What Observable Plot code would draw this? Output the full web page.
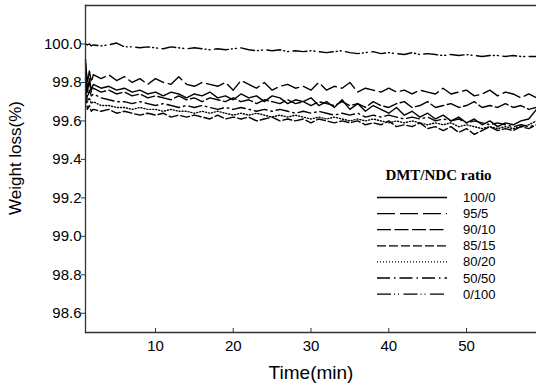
<!DOCTYPE html>
<html>
<head>
<meta charset="utf-8">
<script src="https://cdn.jsdelivr.net/npm/d3@7"></script>
<script src="https://cdn.jsdelivr.net/npm/@observablehq/plot@0.6"></script>
<style>
  html, body { margin: 0; padding: 0; background: #fff; }
  #wrap { position: relative; width: 536px; height: 387px; }
  #legend { position: absolute; left: 0; top: 0; pointer-events: none; }
</style>
</head>
<body>
<div id="wrap"></div>
<script>
// ---- data ----
const times = [1, 1.25, 1.5, 1.75, 2, 3, 4, 5, 6, 7, 8, 9, 10, 11, 12, 13, 14, 15, 16, 17, 18, 19, 20,
  21, 22, 23, 24, 25, 26, 27, 28, 29, 30, 31, 32, 33, 34, 35, 36, 37, 38, 39, 40,
  41, 42, 43, 44, 45, 46, 47, 48, 49, 50, 51, 52, 53, 54, 55, 56, 57, 58, 59];

const seriesNames = ["100/0", "95/5", "90/10", "85/15", "80/20", "50/50", "0/100"];

const s100_0 = [99.92, 99.75, 99.82, 99.76, 99.79, 99.77, 99.78, 99.76, 99.77, 99.75, 99.76, 99.74, 99.75,
  99.73, 99.75, 99.74, 99.72, 99.74, 99.73, 99.75, 99.72, 99.73, 99.71,
  99.74, 99.72, 99.73, 99.70, 99.73, 99.72, 99.69, 99.71, 99.70, 99.72,
  99.68, 99.70, 99.67, 99.71, 99.66, 99.69, 99.65, 99.68, 99.66, 99.64,
  99.67, 99.63, 99.65, 99.62, 99.64, 99.61, 99.63, 99.60, 99.62, 99.59,
  99.61, 99.58, 99.60, 99.57, 99.59, 99.58, 99.60, 99.61, 99.66];
const s95_5 = [99.90, 99.80, 99.86, 99.80, 99.84, 99.82, 99.84, 99.81, 99.83, 99.80, 99.82, 99.79, 99.82,
  99.80, 99.79, 99.83, 99.79, 99.78, 99.80, 99.79, 99.78, 99.80, 99.76,
  99.81, 99.79, 99.77, 99.80, 99.76, 99.78, 99.79, 99.77, 99.78, 99.76,
  99.80, 99.76, 99.78, 99.77, 99.80, 99.75, 99.77, 99.76, 99.75, 99.77,
  99.75, 99.76, 99.74, 99.76, 99.75, 99.74, 99.77, 99.74, 99.75, 99.76,
  99.73, 99.74, 99.76, 99.73, 99.75, 99.74, 99.72, 99.74, 99.72];
const s90_10 = [99.85, 99.77, 99.80, 99.75, 99.77, 99.75, 99.76, 99.74, 99.75, 99.73, 99.74, 99.72, 99.73,
  99.72, 99.71, 99.73, 99.71, 99.72, 99.70, 99.72, 99.71, 99.70, 99.72,
  99.70, 99.71, 99.69, 99.71, 99.70, 99.69, 99.71, 99.69, 99.70, 99.68,
  99.70, 99.69, 99.68, 99.70, 99.68, 99.69, 99.67, 99.70, 99.68, 99.67,
  99.69, 99.70, 99.67, 99.68, 99.70, 99.67, 99.68, 99.69, 99.67, 99.68,
  99.70, 99.67, 99.68, 99.67, 99.69, 99.67, 99.68, 99.66, 99.67];
const s85_15 = [99.74, 99.66, 99.68, 99.65, 99.66, 99.65, 99.66, 99.64, 99.65, 99.64, 99.63, 99.64, 99.63,
  99.64, 99.62, 99.63, 99.62, 99.63, 99.62, 99.61, 99.63, 99.61, 99.62,
  99.61, 99.62, 99.60, 99.61, 99.62, 99.60, 99.61, 99.60, 99.61, 99.59,
  99.61, 99.60, 99.59, 99.60, 99.59, 99.60, 99.58, 99.59, 99.58, 99.60,
  99.57, 99.58, 99.57, 99.59, 99.56, 99.57, 99.55, 99.57, 99.54, 99.56,
  99.53, 99.55, 99.57, 99.55, 99.56, 99.55, 99.57, 99.56, 99.58];
const s80_20 = [99.78, 99.70, 99.72, 99.69, 99.70, 99.68, 99.68, 99.67, 99.67, 99.66, 99.67, 99.66, 99.66,
  99.65, 99.66, 99.65, 99.65, 99.64, 99.65, 99.64, 99.65, 99.64, 99.63,
  99.64, 99.63, 99.64, 99.63, 99.62, 99.63, 99.62, 99.63, 99.62, 99.61,
  99.62, 99.61, 99.62, 99.61, 99.60, 99.61, 99.60, 99.61, 99.60, 99.59,
  99.60, 99.59, 99.60, 99.59, 99.58, 99.59, 99.58, 99.59, 99.57, 99.58,
  99.57, 99.56, 99.57, 99.56, 99.57, 99.56, 99.57, 99.58, 99.60];
const s50_50 = [99.82, 99.72, 99.76, 99.73, 99.74, 99.72, 99.71, 99.70, 99.70, 99.69, 99.70, 99.69, 99.68,
  99.69, 99.68, 99.67, 99.68, 99.67, 99.68, 99.67, 99.66, 99.67, 99.66,
  99.67, 99.66, 99.65, 99.66, 99.65, 99.66, 99.65, 99.64, 99.65, 99.64,
  99.65, 99.64, 99.63, 99.64, 99.63, 99.64, 99.62, 99.63, 99.62, 99.63,
  99.62, 99.61, 99.62, 99.61, 99.62, 99.60, 99.61, 99.60, 99.61, 99.59,
  99.60, 99.59, 99.58, 99.59, 99.58, 99.57, 99.58, 99.57, 99.58];
const s0_100 = [100.00, 99.995, 100.00, 99.99, 99.995, 99.99, 99.995, 100.005, 99.985, 99.985, 99.98, 99.985, 99.98,
  99.975, 99.985, 99.98, 99.975, 99.98, 99.975, 99.97, 99.975, 99.97, 99.975,
  99.98, 99.97, 99.965, 99.97, 99.965, 99.97, 99.96, 99.965, 99.96, 99.965,
  99.96, 99.955, 99.96, 99.965, 99.955, 99.95, 99.955, 99.96, 99.95, 99.955,
  99.95, 99.945, 99.955, 99.945, 99.95, 99.945, 99.94, 99.945, 99.94, 99.945,
  99.94, 99.935, 99.94, 99.94, 99.935, 99.94, 99.935, 99.935, 99.935];

const seriesValues = [s100_0, s95_5, s90_10, s85_15, s80_20, s50_50, s0_100];
const dashes = ["none", "18,5", "14,3.5", "9,3", "1,2", "13,4,1.5,4", "14,3,1,3,1,4.5"];

const xTicks = [10, 20, 30, 40, 50];
const yTicks = [98.6, 98.8, 99.0, 99.2, 99.4, 99.6, 99.8, 100.0];
const xLabel = "Time(min)";
const yLabel = "Weight loss(%)";
const legendTitle = "DMT/NDC ratio";

// ---- table ----
const rows = [];
seriesNames.forEach((name, i) => {
  times.forEach((t, j) => rows.push({series: name, t, v: seriesValues[i][j]}));
});

const W = 536, H = 387;
const font = "'Liberation Sans', Arial, sans-serif";

const lineMarks = seriesNames.map((name, i) =>
  Plot.line(rows.filter(r => r.series === name), {
    x: "t", y: "v", stroke: "#000", strokeWidth: 1.4,
    strokeDasharray: dashes[i] === "none" ? null : dashes[i]
  })
);

const chart = Plot.plot({
  width: W,
  height: H,
  marginLeft: 85,
  marginRight: 0,
  marginTop: 5,
  marginBottom: 55,
  style: {fontFamily: font, fontSize: "15px", color: "#000", background: "#fff"},
  x: {domain: [1, 59]},
  y: {domain: [98.5, 100.2]},
  marks: [
    ...lineMarks,
    Plot.frame({anchor: "top", stroke: "#333", strokeWidth: 1.3}),
    Plot.frame({anchor: "left", stroke: "#333", strokeWidth: 1.3}),
    Plot.frame({anchor: "bottom", stroke: "#333", strokeWidth: 1.3}),
    Plot.axisX({ticks: xTicks, tickSize: -4, tickPadding: 12, label: null, fontSize: 15, stroke: "#333"}),
    Plot.axisY({ticks: yTicks, tickSize: 4, tickPadding: 0, tickFormat: d3.format(".1f"), label: null, fontSize: 15, stroke: "#333"}),
    Plot.text([xLabel], {frameAnchor: "bottom", text: d => d, dy: 40, lineAnchor: "middle", textAnchor: "middle", fontSize: 19, fill: "#000"}),
    Plot.text([yLabel], {frameAnchor: "left", text: d => d, rotate: -90, dx: -69.5, dy: -11, lineAnchor: "middle", textAnchor: "middle", fontSize: 17, fill: "#000"})
  ]
});

const wrap = document.getElementById("wrap");
wrap.appendChild(chart);

// ---- legend (overlay) ----
const leg = d3.select(wrap).append("svg")
  .attr("id", "legend").attr("width", W).attr("height", H);
leg.append("text")
  .attr("x", 438.5).attr("y", 175)
  .attr("text-anchor", "middle").attr("dominant-baseline", "central")
  .attr("font-family", "'Liberation Serif', 'Times New Roman', serif")
  .attr("font-weight", "bold").attr("font-size", 15)
  .text(legendTitle);
const rowG = leg.selectAll("g.row").data(seriesNames).join("g")
  .attr("transform", (d, i) => `translate(0,${197.5 + i * 16.1})`);
rowG.append("line")
  .attr("x1", 377).attr("x2", 447).attr("y1", 0).attr("y2", 0)
  .attr("stroke", "#000").attr("stroke-width", 1.3)
  .attr("stroke-dasharray", (d, i) => dashes[i] === "none" ? null : dashes[i]);
rowG.append("text")
  .attr("x", 463).attr("y", 0).attr("dominant-baseline", "central")
  .attr("font-family", font).attr("font-size", 13)
  .text(d => d);
</script>
</body>
</html>
